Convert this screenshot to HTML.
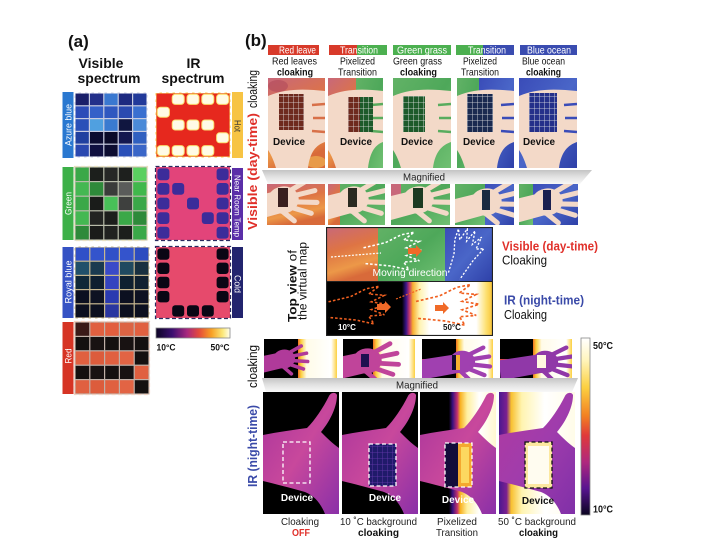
<!DOCTYPE html>
<html><head><meta charset="utf-8"><style>html,body{margin:0;padding:0;background:#fff;}svg{display:block}</style></head>
<body>
<svg width="709" height="548" viewBox="0 0 709 548" xmlns="http://www.w3.org/2000/svg" font-family="'Liberation Sans', Arial, sans-serif">
<defs>
 <linearGradient id="cbA" x1="0" y1="0" x2="1" y2="0">
  <stop offset="0" stop-color="#0b0424"/><stop offset=".22" stop-color="#3c0f70"/><stop offset=".42" stop-color="#a8287e"/><stop offset=".58" stop-color="#e44a3c"/><stop offset=".75" stop-color="#f8a024"/><stop offset=".9" stop-color="#fbe878"/><stop offset="1" stop-color="#fffff0"/>
 </linearGradient>
 <linearGradient id="cbB" x1="0" y1="0" x2="0" y2="1">
  <stop offset="0" stop-color="#ffffff"/><stop offset=".12" stop-color="#fff6c0"/><stop offset=".28" stop-color="#fcd040"/><stop offset=".44" stop-color="#f28022"/><stop offset=".55" stop-color="#e03a3a"/><stop offset=".7" stop-color="#b0287e"/><stop offset=".85" stop-color="#581490"/><stop offset="1" stop-color="#0a0420"/>
 </linearGradient>
 <linearGradient id="lv" x1="0" y1="0" x2="0.3" y2="1">
  <stop offset="0" stop-color="#c8687a"/><stop offset=".45" stop-color="#de7444"/><stop offset=".8" stop-color="#ec9848"/><stop offset="1" stop-color="#d86a3a"/>
 </linearGradient>
 <linearGradient id="gr" x1="0" y1="0" x2="1" y2="1"><stop offset="0" stop-color="#62b266"/><stop offset=".5" stop-color="#4ea85a"/><stop offset="1" stop-color="#70c072"/></linearGradient>
 <linearGradient id="oc" x1="0" y1="0" x2="1" y2="1"><stop offset="0" stop-color="#3a4cb8"/><stop offset=".5" stop-color="#4a66c8"/><stop offset="1" stop-color="#2e40a8"/></linearGradient>
 <linearGradient id="hm" x1="0" y1="0" x2="1" y2="1"><stop offset="0" stop-color="#a8349c"/><stop offset=".5" stop-color="#c8489c"/><stop offset="1" stop-color="#8a30a8"/></linearGradient>
 <linearGradient id="hm4" x1="0" y1="0" x2="1" y2="1"><stop offset="0" stop-color="#b03aa0"/><stop offset=".5" stop-color="#a03cac"/><stop offset="1" stop-color="#8030a8"/></linearGradient>
 <linearGradient id="tvb" x1="0" y1="0" x2="1" y2="0">
  <stop offset="0" stop-color="#000"/><stop offset=".455" stop-color="#000"/><stop offset=".48" stop-color="#3a1488"/><stop offset=".5" stop-color="#c83a6a"/><stop offset=".52" stop-color="#f8b030"/><stop offset=".56" stop-color="#fff3b0"/><stop offset=".62" stop-color="#fff"/><stop offset=".9" stop-color="#fff"/><stop offset=".96" stop-color="#fde070"/><stop offset="1" stop-color="#f8c030"/>
 </linearGradient>
 <linearGradient id="irs" x1="0" y1="0" x2="1" y2="0">
  <stop offset="0" stop-color="#f07020"/><stop offset=".08" stop-color="#fcd040"/><stop offset=".22" stop-color="#fffbe8"/><stop offset=".85" stop-color="#ffffff"/><stop offset="1" stop-color="#fcd040"/>
 </linearGradient>
 <linearGradient id="ir3" x1="0" y1="0" x2="1" y2="0">
  <stop offset="0" stop-color="#000"/><stop offset=".38" stop-color="#000"/><stop offset=".43" stop-color="#3a1080"/><stop offset=".49" stop-color="#c03070"/><stop offset=".53" stop-color="#f8b020"/><stop offset=".62" stop-color="#fff0a0"/><stop offset=".78" stop-color="#ffffff"/><stop offset="1" stop-color="#fff8d0"/>
 </linearGradient>
 <linearGradient id="ir4" x1="0" y1="0" x2="1" y2="0">
  <stop offset="0" stop-color="#4a1890"/><stop offset=".1" stop-color="#7a2090"/><stop offset=".16" stop-color="#f8c030"/><stop offset=".3" stop-color="#fff4b0"/><stop offset=".6" stop-color="#ffffff"/><stop offset="1" stop-color="#fffce8"/>
 </linearGradient>
 <linearGradient id="mg" x1="0" y1="0" x2="0" y2="1"><stop offset="0" stop-color="#c4c4c4"/><stop offset=".5" stop-color="#e2e2e2"/><stop offset="1" stop-color="#f8f8f8"/></linearGradient>
 <pattern id="gw" width="5" height="6" patternUnits="userSpaceOnUse"><path d="M0,0 H5 M0,0 V6" stroke="#e8e8e8" stroke-width="0.8" fill="none"/></pattern>
 <pattern id="gp" width="5" height="6" patternUnits="userSpaceOnUse"><path d="M0,0 H5 M0,0 V6" stroke="#6a3ab0" stroke-width="0.8" fill="none"/></pattern>
 <path id="hL" d="M0,43 C15,40 30,38 44,36 C52,28 60,16 66,4 C68,0 73,0 74,3 C74,14 68,28 58,40 C64,46 70,52 76,56 L76,122 L62,122 C58,112 52,104 42,100 C28,96 12,92 0,89 Z"/>
 <g id="hs">
  <ellipse cx="0" cy="0" rx="10" ry="8.5"/>
  <path d="M-6,-6 L-36,-4 L-36,11 L-4,8 Z"/>
  <path d="M5,-5 L18,-10 M7,-1.5 L22,-2.5 M7,2.5 L22,5.5 M5,6 L17,12 M-2,7 L5,15" fill="none" stroke-width="3.4" stroke-linecap="round"/>
 </g>
 <path id="ho" d="M-25,-4 L-8,-8 L4,-14 L14,-16 L6,-10 L18,-9 L8,-4 L20,-2 L8,2 L18,6 L6,7 L10,13 L-4,10 L-25,8" fill="none" stroke-width="1.2" stroke-dasharray="2 1.5"/>
 <path id="ar" d="M0,-3 L8,-3 L8,-6 L14,0 L8,6 L8,3 L0,3 Z"/>
</defs>

<!-- ================= PANEL A ================= -->
<text x="68" y="47" font-size="17" font-weight="bold" fill="#111">(a)</text>
<text x="101" y="68" font-size="14" font-weight="bold" text-anchor="middle" fill="#111">Visible</text>
<text x="109" y="83" font-size="14" font-weight="bold" text-anchor="middle" fill="#111">spectrum</text>
<text x="193.5" y="68" font-size="14" font-weight="bold" text-anchor="middle" fill="#111">IR</text>
<text x="193" y="83" font-size="14" font-weight="bold" text-anchor="middle" fill="#111">spectrum</text>

<rect x="62.5" y="92" width="11" height="66" fill="#2a78d0"/>
<rect x="62.5" y="167" width="11" height="73" fill="#3cb048"/>
<rect x="62.5" y="247" width="11" height="71" fill="#3552c4"/>
<rect x="62.5" y="322" width="11" height="72" fill="#d63424"/>
<text transform="translate(71.3,125) rotate(-90)" font-size="9" fill="#fff" text-anchor="middle" textLength="42" lengthAdjust="spacingAndGlyphs">Azure blue</text>
<text transform="translate(71.3,203.5) rotate(-90)" font-size="9" fill="#fff" text-anchor="middle" textLength="23" lengthAdjust="spacingAndGlyphs">Green</text>
<text transform="translate(71.3,282) rotate(-90)" font-size="9" fill="#fff" text-anchor="middle" textLength="43" lengthAdjust="spacingAndGlyphs">Royal blue</text>
<text transform="translate(71.3,356) rotate(-90)" font-size="9" fill="#fff" text-anchor="middle" textLength="15" lengthAdjust="spacingAndGlyphs">Red</text>
<rect x="232" y="92" width="11" height="66" fill="#f7c444"/>
<rect x="232" y="168" width="11" height="72" fill="#5a2ea8"/>
<rect x="232" y="247" width="11" height="71" fill="#22246e"/>
<text transform="translate(234.3,126) rotate(90)" font-size="9" fill="#333" text-anchor="middle" textLength="12" lengthAdjust="spacingAndGlyphs">Hot</text>
<text transform="translate(234.3,206) rotate(90)" font-size="8.5" fill="#fff" text-anchor="middle" textLength="62" lengthAdjust="spacingAndGlyphs">Near Room Temp</text>
<text transform="translate(234.3,284) rotate(90)" font-size="9" fill="#fff" text-anchor="middle" textLength="18" lengthAdjust="spacingAndGlyphs">Cold</text>

<rect x="74.5" y="92.5" width="73" height="65" fill="#c8cce0"/>
<g>
<rect x="75.6" y="93.6" width="13.2" height="11.6" fill="#1a1f6a"/><rect x="90" y="93.6" width="13.2" height="11.6" fill="#23308a"/><rect x="104.4" y="93.6" width="13.2" height="11.6" fill="#3a78d0"/><rect x="118.8" y="93.6" width="13.2" height="11.6" fill="#1d2a80"/><rect x="133.2" y="93.6" width="13.2" height="11.6" fill="#223a9a"/>
<rect x="75.6" y="106.4" width="13.2" height="11.6" fill="#2c4cb8"/><rect x="90" y="106.4" width="13.2" height="11.6" fill="#3460c8"/><rect x="104.4" y="106.4" width="13.2" height="11.6" fill="#2f58c0"/><rect x="118.8" y="106.4" width="13.2" height="11.6" fill="#2a4ab0"/><rect x="133.2" y="106.4" width="13.2" height="11.6" fill="#3a70d0"/>
<rect x="75.6" y="119.2" width="13.2" height="11.6" fill="#2a50b8"/><rect x="90" y="119.2" width="13.2" height="11.6" fill="#50a0e0"/><rect x="104.4" y="119.2" width="13.2" height="11.6" fill="#3a7ad0"/><rect x="118.8" y="119.2" width="13.2" height="11.6" fill="#101640"/><rect x="133.2" y="119.2" width="13.2" height="11.6" fill="#4a8ad8"/>
<rect x="75.6" y="132" width="13.2" height="11.6" fill="#2040a0"/><rect x="90" y="132" width="13.2" height="11.6" fill="#0c0c30"/><rect x="104.4" y="132" width="13.2" height="11.6" fill="#0a0a28"/><rect x="118.8" y="132" width="13.2" height="11.6" fill="#141850"/><rect x="133.2" y="132" width="13.2" height="11.6" fill="#3060c0"/>
<rect x="75.6" y="144.8" width="13.2" height="11.6" fill="#2a48b0"/><rect x="90" y="144.8" width="13.2" height="11.6" fill="#101040"/><rect x="104.4" y="144.8" width="13.2" height="11.6" fill="#0c0c30"/><rect x="118.8" y="144.8" width="13.2" height="11.6" fill="#2a50b8"/><rect x="133.2" y="144.8" width="13.2" height="11.6" fill="#3a66c8"/>
</g>
<rect x="74.5" y="92.5" width="73" height="65" fill="none" stroke="#fff" stroke-width="1.4" stroke-dasharray="4 2.5"/>

<rect x="74.5" y="166.5" width="73" height="74" fill="#b8bcaa"/>
<g>
<rect x="75.6" y="167.6" width="13.2" height="13.4" fill="#3aa848"/><rect x="90" y="167.6" width="13.2" height="13.4" fill="#1c1f1c"/><rect x="104.4" y="167.6" width="13.2" height="13.4" fill="#262826"/><rect x="118.8" y="167.6" width="13.2" height="13.4" fill="#1e201e"/><rect x="133.2" y="167.6" width="13.2" height="13.4" fill="#5ad060"/>
<rect x="75.6" y="182.2" width="13.2" height="13.4" fill="#44b852"/><rect x="90" y="182.2" width="13.2" height="13.4" fill="#2e8a3a"/><rect x="104.4" y="182.2" width="13.2" height="13.4" fill="#3a3c3a"/><rect x="118.8" y="182.2" width="13.2" height="13.4" fill="#5a5c5a"/><rect x="133.2" y="182.2" width="13.2" height="13.4" fill="#40b84c"/>
<rect x="75.6" y="196.8" width="13.2" height="13.4" fill="#3aa848"/><rect x="90" y="196.8" width="13.2" height="13.4" fill="#1a1c1a"/><rect x="104.4" y="196.8" width="13.2" height="13.4" fill="#48c058"/><rect x="118.8" y="196.8" width="13.2" height="13.4" fill="#3e403e"/><rect x="133.2" y="196.8" width="13.2" height="13.4" fill="#3aa848"/>
<rect x="75.6" y="211.4" width="13.2" height="13.4" fill="#44b852"/><rect x="90" y="211.4" width="13.2" height="13.4" fill="#222422"/><rect x="104.4" y="211.4" width="13.2" height="13.4" fill="#1c1e1c"/><rect x="118.8" y="211.4" width="13.2" height="13.4" fill="#3aa848"/><rect x="133.2" y="211.4" width="13.2" height="13.4" fill="#2e8a3a"/>
<rect x="75.6" y="226" width="13.2" height="13.4" fill="#2e8a3a"/><rect x="90" y="226" width="13.2" height="13.4" fill="#1a1c1a"/><rect x="104.4" y="226" width="13.2" height="13.4" fill="#202220"/><rect x="118.8" y="226" width="13.2" height="13.4" fill="#1c1e1c"/><rect x="133.2" y="226" width="13.2" height="13.4" fill="#3aa848"/>
</g>
<rect x="74.5" y="166.5" width="73" height="74" fill="none" stroke="#e8e0c0" stroke-width="1.2" stroke-dasharray="4 2.5"/>

<rect x="74.5" y="246.5" width="75" height="72" fill="#c8b890"/>
<g>
<rect x="75.6" y="247.6" width="13.6" height="13" fill="#3050c8"/><rect x="90.4" y="247.6" width="13.6" height="13" fill="#3454cc"/><rect x="105.2" y="247.6" width="13.6" height="13" fill="#3050c8"/><rect x="120" y="247.6" width="13.6" height="13" fill="#3454cc"/><rect x="134.8" y="247.6" width="13.6" height="13" fill="#2c4cc0"/>
<rect x="75.6" y="261.8" width="13.6" height="13" fill="#20506a"/><rect x="90.4" y="261.8" width="13.6" height="13" fill="#1a3a50"/><rect x="105.2" y="261.8" width="13.6" height="13" fill="#3a4ac8"/><rect x="120" y="261.8" width="13.6" height="13" fill="#204a60"/><rect x="134.8" y="261.8" width="13.6" height="13" fill="#183040"/>
<rect x="75.6" y="276" width="13.6" height="13" fill="#102838"/><rect x="90.4" y="276" width="13.6" height="13" fill="#0e1e30"/><rect x="105.2" y="276" width="13.6" height="13" fill="#3444c0"/><rect x="120" y="276" width="13.6" height="13" fill="#0f2030"/><rect x="134.8" y="276" width="13.6" height="13" fill="#102030"/>
<rect x="75.6" y="290.2" width="13.6" height="13" fill="#0c1020"/><rect x="90.4" y="290.2" width="13.6" height="13" fill="#0e1222"/><rect x="105.2" y="290.2" width="13.6" height="13" fill="#2a3ab0"/><rect x="120" y="290.2" width="13.6" height="13" fill="#0c1020"/><rect x="134.8" y="290.2" width="13.6" height="13" fill="#0e1222"/>
<rect x="75.6" y="304.4" width="13.6" height="13" fill="#0c1020"/><rect x="90.4" y="304.4" width="13.6" height="13" fill="#0c1020"/><rect x="105.2" y="304.4" width="13.6" height="13" fill="#2a36a0"/><rect x="120" y="304.4" width="13.6" height="13" fill="#0c1020"/><rect x="134.8" y="304.4" width="13.6" height="13" fill="#0c1020"/>
</g>
<rect x="74.5" y="246.5" width="75" height="72" fill="none" stroke="#fff" stroke-width="1.2" stroke-dasharray="4 2.5"/>

<rect x="74.5" y="321.5" width="75" height="73" fill="#c0b0a8"/>
<g>
<rect x="75.6" y="322.6" width="13.6" height="13.2" fill="#3a1a18"/><rect x="90.4" y="322.6" width="13.6" height="13.2" fill="#e06040"/><rect x="105.2" y="322.6" width="13.6" height="13.2" fill="#e25e3e"/><rect x="120" y="322.6" width="13.6" height="13.2" fill="#dc6444"/><rect x="134.8" y="322.6" width="13.6" height="13.2" fill="#e06040"/>
<rect x="75.6" y="337" width="13.6" height="13.2" fill="#141010"/><rect x="90.4" y="337" width="13.6" height="13.2" fill="#181212"/><rect x="105.2" y="337" width="13.6" height="13.2" fill="#141010"/><rect x="120" y="337" width="13.6" height="13.2" fill="#181212"/><rect x="134.8" y="337" width="13.6" height="13.2" fill="#141010"/>
<rect x="75.6" y="351.4" width="13.6" height="13.2" fill="#e06040"/><rect x="90.4" y="351.4" width="13.6" height="13.2" fill="#dc5c3c"/><rect x="105.2" y="351.4" width="13.6" height="13.2" fill="#e06040"/><rect x="120" y="351.4" width="13.6" height="13.2" fill="#e26444"/><rect x="134.8" y="351.4" width="13.6" height="13.2" fill="#141010"/>
<rect x="75.6" y="365.8" width="13.6" height="13.2" fill="#141010"/><rect x="90.4" y="365.8" width="13.6" height="13.2" fill="#181212"/><rect x="105.2" y="365.8" width="13.6" height="13.2" fill="#141010"/><rect x="120" y="365.8" width="13.6" height="13.2" fill="#181212"/><rect x="134.8" y="365.8" width="13.6" height="13.2" fill="#e06040"/>
<rect x="75.6" y="380.2" width="13.6" height="13.2" fill="#e06040"/><rect x="90.4" y="380.2" width="13.6" height="13.2" fill="#dc5c3c"/><rect x="105.2" y="380.2" width="13.6" height="13.2" fill="#e06040"/><rect x="120" y="380.2" width="13.6" height="13.2" fill="#e26444"/><rect x="134.8" y="380.2" width="13.6" height="13.2" fill="#141010"/>
</g>
<rect x="74.5" y="321.5" width="75" height="73" fill="none" stroke="#f0d0c0" stroke-width="1.2" stroke-dasharray="4 2.5"/>

<rect x="156" y="93" width="74" height="64" fill="#e6281e" stroke="#f8d050" stroke-width="1"/>
<g fill="#fffbe6" stroke="#fbe070" stroke-width="1">
<rect x="172.2" y="94.4" width="12" height="10" rx="3"/><rect x="187" y="94.4" width="12" height="10" rx="3"/><rect x="201.8" y="94.4" width="12" height="10" rx="3"/><rect x="216.6" y="94.4" width="12" height="10" rx="3"/>
<rect x="157.4" y="107.2" width="12" height="10" rx="3"/>
<rect x="172.2" y="120" width="12" height="10" rx="3"/><rect x="187" y="120" width="12" height="10" rx="3"/><rect x="201.8" y="120" width="12" height="10" rx="3"/>
<rect x="216.6" y="132.8" width="12" height="10" rx="3"/>
<rect x="157.4" y="145.6" width="12" height="10" rx="3"/><rect x="172.2" y="145.6" width="12" height="10" rx="3"/><rect x="187" y="145.6" width="12" height="10" rx="3"/><rect x="201.8" y="145.6" width="12" height="10" rx="3"/>
</g>
<rect x="155.5" y="92.5" width="75" height="65" fill="none" stroke="#fff" stroke-width="1.2" stroke-dasharray="4 2.5"/>

<rect x="156" y="167" width="74" height="73" fill="#e2447a"/>
<g fill="#3c2c9a">
<rect x="157.4" y="168.4" width="12" height="11.8" rx="3"/><rect x="216.6" y="168.4" width="12" height="11.8" rx="3"/>
<rect x="157.4" y="183" width="12" height="11.8" rx="3"/><rect x="172.2" y="183" width="12" height="11.8" rx="3"/><rect x="216.6" y="183" width="12" height="11.8" rx="3"/>
<rect x="157.4" y="197.6" width="12" height="11.8" rx="3"/><rect x="187" y="197.6" width="12" height="11.8" rx="3"/><rect x="216.6" y="197.6" width="12" height="11.8" rx="3"/>
<rect x="157.4" y="212.2" width="12" height="11.8" rx="3"/><rect x="201.8" y="212.2" width="12" height="11.8" rx="3"/><rect x="216.6" y="212.2" width="12" height="11.8" rx="3"/>
<rect x="157.4" y="226.8" width="12" height="11.8" rx="3"/><rect x="216.6" y="226.8" width="12" height="11.8" rx="3"/>
</g>
<rect x="155.5" y="166.5" width="75" height="74" fill="none" stroke="#2a2a60" stroke-width="1.2" stroke-dasharray="4 2.5"/>

<rect x="156" y="247" width="74" height="71" fill="#e64a6c"/>
<g fill="#0a0614">
<rect x="157.4" y="248.4" width="12" height="11.4" rx="3"/><rect x="216.6" y="248.4" width="12" height="11.4" rx="3"/>
<rect x="157.4" y="262.6" width="12" height="11.4" rx="3"/><rect x="216.6" y="262.6" width="12" height="11.4" rx="3"/>
<rect x="157.4" y="276.8" width="12" height="11.4" rx="3"/><rect x="216.6" y="276.8" width="12" height="11.4" rx="3"/>
<rect x="157.4" y="291" width="12" height="11.4" rx="3"/><rect x="216.6" y="291" width="12" height="11.4" rx="3"/>
<rect x="172.2" y="305.2" width="12" height="11.4" rx="3"/><rect x="187" y="305.2" width="12" height="11.4" rx="3"/><rect x="201.8" y="305.2" width="12" height="11.4" rx="3"/>
</g>
<rect x="155.5" y="246.5" width="75" height="72" fill="none" stroke="#2a2a60" stroke-width="1.2" stroke-dasharray="4 2.5"/>

<rect x="156" y="328" width="74" height="10" fill="url(#cbA)" stroke="#888" stroke-width="0.8"/>
<text x="156.5" y="350.5" font-size="9" font-weight="bold" fill="#111" textLength="19" lengthAdjust="spacingAndGlyphs">10°C</text>
<text x="210.5" y="350.5" font-size="9" font-weight="bold" fill="#111" textLength="19" lengthAdjust="spacingAndGlyphs">50°C</text>

<!-- ================= PANEL B ================= -->
<text x="245" y="46" font-size="17" font-weight="bold" fill="#111">(b)</text>

<text transform="translate(257,230) rotate(-90)" font-size="12.5" font-weight="bold" fill="#e0302a" textLength="117" lengthAdjust="spacingAndGlyphs">Visible (day-time)</text>
<text transform="translate(257,108) rotate(-90)" font-size="12.5" fill="#111" textLength="38" lengthAdjust="spacingAndGlyphs">cloaking</text>
<text transform="translate(257,487) rotate(-90)" font-size="12.5" font-weight="bold" fill="#3a4aa8" textLength="82" lengthAdjust="spacingAndGlyphs">IR (night-time)</text>
<text transform="translate(257,388) rotate(-90)" font-size="12.5" fill="#111" textLength="43" lengthAdjust="spacingAndGlyphs">cloaking</text>

<rect x="268" y="45" width="51" height="10" fill="#d83a2a"/>
<rect x="329" y="45" width="28" height="10" fill="#d83a2a"/><rect x="357" y="45" width="30" height="10" fill="#4cb050"/>
<rect x="393" y="45" width="58" height="10" fill="#4cb050"/>
<rect x="456" y="45" width="27" height="10" fill="#4cb050"/><rect x="483" y="45" width="31" height="10" fill="#3a4cb0"/>
<rect x="520" y="45" width="57" height="10" fill="#3a4cb0"/>
<g font-size="10" fill="#fff">
<text x="279" y="53.5" textLength="37" lengthAdjust="spacingAndGlyphs">Red leave</text>
<text x="340" y="53.5" textLength="38" lengthAdjust="spacingAndGlyphs">Transition</text>
<text x="397" y="53.5" textLength="50" lengthAdjust="spacingAndGlyphs">Green grass</text>
<text x="468" y="53.5" textLength="38" lengthAdjust="spacingAndGlyphs">Transition</text>
<text x="527" y="53.5" textLength="44" lengthAdjust="spacingAndGlyphs">Blue ocean</text>
</g>
<g font-size="10.5" fill="#111">
<text x="272" y="64.5" textLength="45" lengthAdjust="spacingAndGlyphs">Red leaves</text>
<text x="277" y="75.5" font-weight="bold" textLength="36" lengthAdjust="spacingAndGlyphs">cloaking</text>
<text x="340" y="64.5" textLength="35" lengthAdjust="spacingAndGlyphs">Pixelized</text>
<text x="338" y="75.5" textLength="39" lengthAdjust="spacingAndGlyphs">Transition</text>
<text x="393" y="64.5" textLength="49" lengthAdjust="spacingAndGlyphs">Green grass</text>
<text x="400" y="75.5" font-weight="bold" textLength="37" lengthAdjust="spacingAndGlyphs">cloaking</text>
<text x="463" y="64.5" textLength="34" lengthAdjust="spacingAndGlyphs">Pixelized</text>
<text x="461" y="75.5" textLength="38" lengthAdjust="spacingAndGlyphs">Transition</text>
<text x="522" y="64.5" textLength="43" lengthAdjust="spacingAndGlyphs">Blue ocean</text>
<text x="526" y="75.5" font-weight="bold" textLength="35" lengthAdjust="spacingAndGlyphs">cloaking</text>
</g>

<svg x="268" y="78" width="57" height="90">
 <rect width="57" height="90" fill="url(#lv)"/>
 <ellipse cx="10" cy="8" rx="10" ry="6" fill="#b04a5a" opacity=".6"/><ellipse cx="48" cy="84" rx="10" ry="6" fill="#f0b050" opacity=".7"/>
 <path d="M0,18 C18,10 38,11 57,13 L57,64 C48,67 42,74 40,90 L8,90 C5,80 2,75 0,72 Z" fill="#f3d9c8"/>
 <path d="M44,27 L57,26 M45,40 L57,40 M44,53 L57,54" stroke="#d87048" stroke-width="2.5"/>
 <rect x="11" y="16" width="25" height="36" fill="#6e2a1e"/><rect x="11" y="16" width="25" height="36" fill="url(#gw)"/>
 <text x="5" y="67" font-size="10.5" font-weight="bold" fill="#111" textLength="32" lengthAdjust="spacingAndGlyphs">Device</text>
</svg>
<svg x="328" y="78" width="55" height="90">
 <rect width="28" height="90" fill="url(#lv)"/><rect x="28" width="27" height="90" fill="url(#gr)"/>
 <path d="M0,18 C18,10 38,11 55,13 L55,64 C47,67 42,74 40,90 L8,90 C5,80 2,75 0,72 Z" fill="#f3d9c8"/>
 <path d="M43,27 L55,26 M44,40 L55,40 M43,53 L55,54" stroke="#58ac5e" stroke-width="2.5"/>
 <rect x="20" y="19" width="12" height="35" fill="#6e2a1e"/><rect x="32" y="19" width="13" height="35" fill="#1d5a2a"/><rect x="20" y="19" width="25" height="35" fill="url(#gw)"/>
 <text x="12" y="67" font-size="10.5" font-weight="bold" fill="#111" textLength="32" lengthAdjust="spacingAndGlyphs">Device</text>
</svg>
<svg x="393" y="78" width="58" height="90">
 <rect width="58" height="90" fill="url(#gr)"/>
 <path d="M0,18 C18,10 38,11 58,13 L58,64 C49,67 42,74 40,90 L8,90 C5,80 2,75 0,72 Z" fill="#f3d9c8"/>
 <path d="M45,27 L58,26 M46,40 L58,40 M45,53 L58,54" stroke="#58ac5e" stroke-width="2.5"/>
 <rect x="10" y="18" width="22" height="36" fill="#1d5a2a"/><rect x="10" y="18" width="22" height="36" fill="url(#gw)"/>
 <text x="8" y="67" font-size="10.5" font-weight="bold" fill="#111" textLength="32" lengthAdjust="spacingAndGlyphs">Device</text>
</svg>
<svg x="457" y="78" width="57" height="90">
 <rect width="22" height="90" fill="url(#gr)"/><rect x="22" width="35" height="90" fill="url(#oc)"/>
 <path d="M0,18 C18,10 38,11 57,13 L57,64 C48,67 42,74 40,90 L8,90 C5,80 2,75 0,72 Z" fill="#f3d9c8"/>
 <path d="M44,27 L57,26 M45,40 L57,40 M44,53 L57,54" stroke="#3a4cb8" stroke-width="2.5"/>
 <rect x="10" y="16" width="26" height="38" fill="#1a2a50"/><rect x="10" y="16" width="26" height="38" fill="url(#gw)"/>
 <text x="6" y="67" font-size="10.5" font-weight="bold" fill="#111" textLength="32" lengthAdjust="spacingAndGlyphs">Device</text>
</svg>
<svg x="519" y="78" width="58" height="90">
 <rect width="58" height="90" fill="url(#oc)"/>
 <path d="M0,18 C18,10 38,11 58,13 L58,64 C49,67 42,74 40,90 L8,90 C5,80 2,75 0,72 Z" fill="#f3d9c8"/>
 <path d="M45,27 L58,26 M46,40 L58,40 M45,53 L58,54" stroke="#3a4cb8" stroke-width="2.5"/>
 <rect x="10" y="15" width="28" height="39" fill="#25308a"/><rect x="10" y="15" width="28" height="39" fill="url(#gw)"/>
 <text x="4" y="67" font-size="10.5" font-weight="bold" fill="#111" textLength="32" lengthAdjust="spacingAndGlyphs">Device</text>
</svg>

<polygon points="262,170 592,170 580,184 268,184" fill="url(#mg)"/>
<text x="403" y="180.5" font-size="10.5" fill="#222" textLength="42" lengthAdjust="spacingAndGlyphs">Magnified</text>

<svg x="267" y="184" width="58" height="41">
 <rect width="58" height="41" fill="url(#lv)"/>
 <use href="#hs" fill="#f3d9c8" stroke="#f3d9c8" transform="translate(16,16) rotate(-10) scale(1.5)"/>
 <rect x="11" y="4" width="10" height="19" fill="#3a2020"/>
</svg>
<svg x="328" y="184" width="57" height="41">
 <rect width="57" height="41" fill="url(#gr)"/><rect width="12" height="41" fill="url(#lv)"/>
 <use href="#hs" fill="#f3d9c8" stroke="#f3d9c8" transform="translate(25,16) rotate(-10) scale(1.5)"/>
 <rect x="20" y="4" width="9" height="19" fill="#2a2a20"/>
</svg>
<svg x="391" y="184" width="59" height="41">
 <rect width="59" height="41" fill="url(#gr)"/><rect width="10" height="12" fill="#c8687a"/>
 <use href="#hs" fill="#f3d9c8" stroke="#f3d9c8" transform="translate(27,16) rotate(-10) scale(1.5)"/>
 <rect x="22" y="4" width="10" height="20" fill="#1d3a22"/>
</svg>
<svg x="455" y="184" width="59" height="41">
 <rect width="30" height="41" fill="url(#gr)"/><rect x="30" width="29" height="41" fill="url(#oc)"/>
 <use href="#hs" fill="#f3d9c8" stroke="#f3d9c8" transform="translate(31,18) rotate(-10) scale(1.5)"/>
 <rect x="27" y="6" width="8" height="20" fill="#1a2a40"/>
</svg>
<svg x="519" y="184" width="59" height="41">
 <rect width="14" height="41" fill="url(#gr)"/><rect x="14" width="45" height="41" fill="url(#oc)"/>
 <use href="#hs" fill="#f3d9c8" stroke="#f3d9c8" transform="translate(28,18) rotate(-10) scale(1.5)"/>
 <rect x="24" y="6" width="8" height="20" fill="#1a2050"/>
</svg>

<text transform="translate(296.5,322) rotate(-90)" font-size="11.5" fill="#111" textLength="72" lengthAdjust="spacingAndGlyphs"><tspan font-weight="bold">Top view</tspan> of</text>
<text transform="translate(306.5,320) rotate(-90)" font-size="11.5" fill="#111" textLength="78" lengthAdjust="spacingAndGlyphs">the virtual map</text>
<svg x="326" y="227" width="167" height="109">
 <rect width="52" height="54" fill="url(#lv)"/>
 <rect x="52" width="67" height="54" fill="url(#gr)"/>
 <rect x="119" width="48" height="54" fill="url(#oc)"/>
 <rect y="54" width="167" height="55" fill="url(#tvb)"/>
 <line x1="0" y1="54.5" x2="167" y2="54.5" stroke="#222" stroke-width="1"/>
 <path d="M5,30 L55,26" stroke="#fff" stroke-width="1.2" stroke-dasharray="2 1.5"/>
 <use href="#ho" stroke="#fff" transform="translate(70,26) scale(1.3)"/>
 <use href="#ho" stroke="#fff" transform="translate(140,24) rotate(-60) scale(1.1)"/>
 <use href="#ar" fill="#f06a28" transform="translate(82,24)"/>
 <text x="84" y="49" font-size="10.5" fill="#fff" text-anchor="middle" textLength="75" lengthAdjust="spacingAndGlyphs">Moving direction</text>
 <use href="#ho" stroke="#f06020" transform="translate(35,80) scale(1.3)"/>
 <use href="#ho" stroke="#f06020" transform="translate(125,80) scale(1.4)"/>
 <path d="M70,72 L95,62" stroke="#f06020" stroke-width="1.2" stroke-dasharray="2 1.5"/>
 <use href="#ar" fill="#f06a28" transform="translate(51,80)"/>
 <use href="#ar" fill="#f06a28" transform="translate(109,81)"/>
 <text x="12" y="103" font-size="8" font-weight="bold" fill="#fff">10°C</text>
 <text x="117" y="103" font-size="8" font-weight="bold" fill="#111">50°C</text>
 <rect x="0.5" y="0.5" width="166" height="108" fill="none" stroke="#222" stroke-width="1.2"/>
</svg>
<text x="502" y="250.5" font-size="13" font-weight="bold" fill="#e0302a" textLength="96" lengthAdjust="spacingAndGlyphs">Visible (day-time)</text>
<text x="502" y="264.5" font-size="12.5" fill="#111" textLength="45" lengthAdjust="spacingAndGlyphs">Cloaking</text>
<text x="504" y="304.5" font-size="13" font-weight="bold" fill="#3a4aa8" textLength="80" lengthAdjust="spacingAndGlyphs">IR (night-time)</text>
<text x="504" y="319" font-size="12.5" fill="#111" textLength="43" lengthAdjust="spacingAndGlyphs">Cloaking</text>

<svg x="264" y="339" width="73" height="39">
 <rect width="73" height="39" fill="#000"/><rect x="34" width="39" height="39" fill="url(#irs)"/>
 <use href="#hs" fill="#b03a9a" stroke="#b03a9a" transform="translate(20,20) rotate(-8) scale(1.05)"/>
</svg>
<svg x="343" y="339" width="72" height="39">
 <rect width="72" height="39" fill="#000"/><rect x="30" width="42" height="39" fill="url(#irs)"/>
 <use href="#hs" fill="#c0449a" stroke="#c0449a" transform="translate(24,22) rotate(-8) scale(1.4)"/>
 <rect x="18" y="15" width="8" height="13" fill="#201050"/>
</svg>
<svg x="422" y="339" width="71" height="39">
 <rect width="71" height="39" fill="#000"/><rect x="34" width="37" height="39" fill="url(#irs)"/>
 <rect x="0" y="20" width="34" height="13" fill="#e04040"/>
 <use href="#hs" fill="#a040b0" stroke="#a040b0" transform="translate(40,23) rotate(-5) scale(1.25)"/>
 <rect x="30" y="16" width="4" height="15" fill="#140a30"/><rect x="34" y="16" width="4" height="15" fill="#f8b030"/>
</svg>
<svg x="500" y="339" width="72" height="39">
 <rect width="72" height="39" fill="#000"/><rect x="33" width="39" height="39" fill="url(#irs)"/>
 <rect x="0" y="20" width="40" height="12" fill="#e04848"/>
 <use href="#hs" fill="#9038a8" stroke="#9038a8" transform="translate(45,23) rotate(-5) scale(1.25)"/>
 <rect x="37" y="16" width="9" height="13" fill="#fff8e0"/>
</svg>

<polygon points="262,378 578,378 572,392 266,392" fill="url(#mg)"/>
<text x="396" y="388.5" font-size="10.5" fill="#222" textLength="42" lengthAdjust="spacingAndGlyphs">Magnified</text>

<svg x="263" y="392" width="76" height="122">
 <rect width="76" height="122" fill="#000"/>
 <use href="#hL" fill="url(#hm)"/>
 <rect x="20" y="50" width="27" height="41" fill="none" stroke="#fff" stroke-width="1.3" stroke-dasharray="4 2.5"/>
 <text x="34" y="109" font-size="10" font-weight="bold" fill="#fff" text-anchor="middle">Device</text>
</svg>
<svg x="342" y="392" width="76" height="122">
 <rect width="76" height="122" fill="#000"/>
 <use href="#hL" fill="url(#hm)"/>
 <rect x="27" y="52" width="27" height="42" fill="#201a6a"/><rect x="27" y="52" width="27" height="42" fill="url(#gp)"/>
 <rect x="27" y="52" width="27" height="42" fill="none" stroke="#fff" stroke-width="1.3" stroke-dasharray="4 2.5"/>
 <text x="43" y="109" font-size="10" font-weight="bold" fill="#fff" text-anchor="middle">Device</text>
</svg>
<svg x="420" y="392" width="76" height="122">
 <rect width="76" height="122" fill="url(#ir3)"/>
 <use href="#hL" fill="url(#hm)"/>
 <rect x="25" y="51" width="13" height="44" fill="#140c3a"/><rect x="38" y="51" width="14" height="44" fill="#f4a830"/><rect x="41" y="55" width="8" height="36" fill="#fcd860"/>
 <rect x="25" y="51" width="27" height="44" fill="none" stroke="#fff" stroke-width="1.3" stroke-dasharray="4 2.5"/>
 <text x="38" y="111" font-size="10" font-weight="bold" fill="#fff" text-anchor="middle">Device</text>
</svg>
<svg x="499" y="392" width="76" height="122">
 <rect width="76" height="122" fill="url(#ir4)"/>
 <use href="#hL" fill="url(#hm4)"/>
 <rect x="26" y="50" width="27" height="46" fill="#fce8a0"/><rect x="29" y="54" width="21" height="38" fill="#fffcf0"/>
 <rect x="26" y="50" width="27" height="46" fill="none" stroke="#111" stroke-width="1.3" stroke-dasharray="4 2.5"/>
 <text x="39" y="112" font-size="10" font-weight="bold" fill="#111" text-anchor="middle">Device</text>
</svg>

<rect x="581" y="338" width="9" height="177" fill="url(#cbB)" stroke="#888" stroke-width="0.8"/>
<text x="593" y="349" font-size="10" font-weight="bold" fill="#111" textLength="20" lengthAdjust="spacingAndGlyphs">50°C</text>
<text x="593" y="512.5" font-size="10" font-weight="bold" fill="#111" textLength="20" lengthAdjust="spacingAndGlyphs">10°C</text>

<g font-size="10.5" fill="#222">
<text x="281" y="525" textLength="38" lengthAdjust="spacingAndGlyphs">Cloaking</text>
<text x="292" y="536" font-weight="bold" fill="#e0302a" textLength="18" lengthAdjust="spacingAndGlyphs">OFF</text>
<text x="340" y="525" textLength="77" lengthAdjust="spacingAndGlyphs">10 ˚C background</text>
<text x="358" y="536" font-weight="bold" fill="#111" textLength="41" lengthAdjust="spacingAndGlyphs">cloaking</text>
<text x="437" y="525" textLength="40" lengthAdjust="spacingAndGlyphs">Pixelized</text>
<text x="436" y="536" textLength="42" lengthAdjust="spacingAndGlyphs">Transition</text>
<text x="498" y="525" textLength="78" lengthAdjust="spacingAndGlyphs">50 ˚C background</text>
<text x="519" y="536" font-weight="bold" fill="#111" textLength="39" lengthAdjust="spacingAndGlyphs">cloaking</text>
</g>
</svg>
</body></html>
